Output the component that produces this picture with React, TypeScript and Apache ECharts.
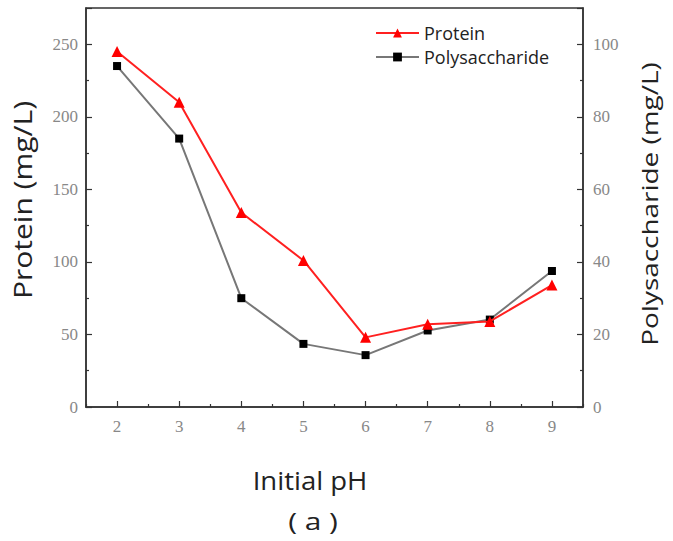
import React, { useEffect, useRef } from "react";
import * as echarts from "echarts";

const phCategories = ["2", "3", "4", "5", "6", "7", "8", "9"];
const proteinValues = [245, 210, 134, 101, 48, 57, 59, 84];
const polysaccharideValues = [94, 74, 30, 17.4, 14.3, 21.1, 24.1, 37.5];
const leftTicks = { min: 0, max: 275, interval: 50 };
const rightTicks = { min: 0, max: 110, interval: 20 };

const SERIF = "Liberation Serif";
const SANS = "Open Sans";

export default function App() {
  const ref = useRef<HTMLDivElement>(null);
  useEffect(() => {
    document.body.style.margin = "0";
    const chart = echarts.init(ref.current!, null, { renderer: "svg" });
    const axisLine = { show: true, lineStyle: { color: "#333", width: 1.5 } };
    const tickLabel = { fontFamily: SERIF, fontSize: 17, color: "#888" };
    chart.setOption({
      animation: false,
      backgroundColor: "#fff",
      grid: {
        left: 86,
        right: 90,
        top: 8,
        bottom: 134,
        show: true,
        borderColor: "#333",
        borderWidth: 1.5,
        containLabel: false,
      },
      legend: {
        orient: "vertical",
        left: 370,
        top: 19,
        itemWidth: 43,
        itemHeight: 11,
        itemGap: 6,
        textStyle: { fontFamily: SANS, fontSize: 18, color: "#222" },
        data: ["Protein", "Polysaccharide"],
      },
      xAxis: [
        {
          type: "category",
          data: phCategories,
          boundaryGap: true,
          axisLine,
          axisTick: {
            show: true,
            inside: true,
            alignWithLabel: true,
            length: 6,
            lineStyle: { color: "#333", width: 1.2 },
          },
          axisLabel: { margin: 11, ...tickLabel },
          splitLine: { show: false },
        },
        {
          type: "category",
          data: phCategories,
          boundaryGap: true,
          position: "bottom",
          axisLine: { show: false },
          axisTick: {
            show: true,
            inside: true,
            length: 3,
            lineStyle: { color: "#333", width: 1.2 },
          },
          axisLabel: { show: false },
          splitLine: { show: false },
        },
      ],
      yAxis: [
        {
          type: "value",
          min: leftTicks.min,
          max: leftTicks.max,
          interval: leftTicks.interval,
          position: "left",
          axisLine,
          axisTick: {
            show: true,
            inside: true,
            length: 6,
            lineStyle: { color: "#333", width: 1.2 },
          },
          minorTick: {
            show: true,
            splitNumber: 2,
            length: 3,
            lineStyle: { color: "#333", width: 1.2 },
          },
          axisLabel: { showMaxLabel: false, margin: 8, ...tickLabel },
          splitLine: { show: false },
        },
        {
          type: "value",
          min: rightTicks.min,
          max: rightTicks.max,
          interval: rightTicks.interval,
          position: "right",
          axisLine,
          axisTick: {
            show: true,
            inside: true,
            length: 6,
            lineStyle: { color: "#333", width: 1.2 },
          },
          minorTick: {
            show: true,
            splitNumber: 2,
            length: 3,
            lineStyle: { color: "#333", width: 1.2 },
          },
          axisLabel: { showMaxLabel: false, margin: 10, ...tickLabel },
          splitLine: { show: false },
        },
      ],
      series: [
        {
          name: "Protein",
          type: "line",
          xAxisIndex: 0,
          yAxisIndex: 0,
          data: proteinValues,
          symbol: "triangle",
          symbolSize: 11,
          itemStyle: { color: "#ff0000" },
          lineStyle: { color: "#ff2020", width: 2 },
          z: 3,
        },
        {
          name: "Polysaccharide",
          type: "line",
          xAxisIndex: 0,
          yAxisIndex: 1,
          data: polysaccharideValues,
          symbol: "rect",
          symbolSize: 8,
          itemStyle: { color: "#000" },
          lineStyle: { color: "#777", width: 2 },
          z: 2,
        },
      ],
      graphic: [
        {
          type: "text",
          x: 22,
          y: 200,
          rotation: Math.PI / 2,
          scaleX: 1.2,
          style: {
            text: "Protein (mg/L)",
            fontFamily: SANS,
            fontSize: 25,
            fill: "#222",
            align: "center",
            verticalAlign: "middle",
          },
        },
        {
          type: "text",
          x: 650,
          y: 204,
          rotation: Math.PI / 2,
          scaleX: 1.33,
          style: {
            text: "Polysaccharide (mg/L)",
            fontFamily: SANS,
            fontSize: 21,
            fill: "#222",
            align: "center",
            verticalAlign: "middle",
          },
        },
        {
          type: "text",
          x: 310,
          y: 480,
          scaleX: 1.1,
          style: {
            text: "Initial pH",
            fontFamily: SANS,
            fontSize: 25,
            fill: "#222",
            align: "center",
            verticalAlign: "middle",
          },
        },
        {
          type: "text",
          x: 313,
          y: 521,
          scaleX: 1.3,
          style: {
            text: "( a )",
            fontFamily: SANS,
            fontSize: 23,
            fill: "#222",
            align: "center",
            verticalAlign: "middle",
          },
        },
      ],
    });
    return () => chart.dispose();
  }, []);
  return <div ref={ref} style={{ width: 673, height: 541 }} />;
}
